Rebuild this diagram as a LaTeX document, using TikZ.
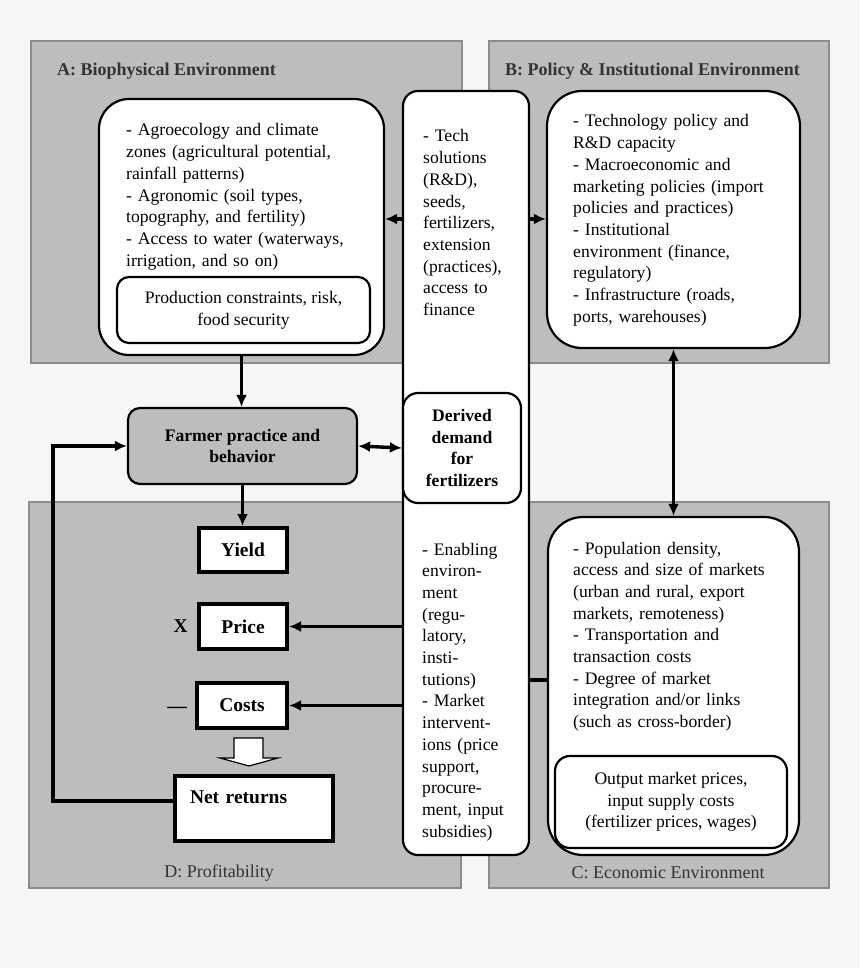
\documentclass[tikz,border=0pt]{standalone}
\usepackage{fontspec}
\setmainfont{Liberation Serif}
\usetikzlibrary{arrows.meta,positioning}
\definecolor{pagebg}{RGB}{246,246,246}
\definecolor{panelgray}{RGB}{189,189,189}
\definecolor{panelline}{RGB}{140,140,140}
\definecolor{labelgray}{RGB}{51,51,51}
\newcommand{\bodyfont}{\fontsize{17.6}{21.7}\selectfont}
\tikzset{
    panel/.style={
        draw=panelline,line width=1.6pt,fill=panelgray,inner sep=0pt
    },
    paneltitle/.style={
        inner sep=0pt,text=labelgray,font=\fontsize{18}{21}\selectfont
    },
    roundbox/.style={
        draw,line width=2.2pt,fill=white,rounded corners=#1,
        inner sep=0pt,align=center,font=\bodyfont
    },
    roundbox/.default=14pt,
    listtext/.style={
        anchor=base west,inner sep=0pt,text width=#1,align=left,font=\bodyfont
    },
    valbox/.style={
        draw,line width=4pt,fill=white,inner sep=0pt,
        font=\fontsize{19.5}{22}\selectfont\bfseries
    },
    arrow/.style={
        -{Latex[length=12pt,width=11pt]},line width=3.4pt
    },
    twoway/.style={
        {Latex[length=12pt,width=11pt]}-{Latex[length=12pt,width=11pt]},line width=3.4pt
    },
    link/.style={line width=3.4pt}
}
\begin{document}
\begin{tikzpicture}[x=1pt,y=-1pt]

\fill[pagebg] (0,0) rectangle (860,968);
\useasboundingbox (0,0) rectangle (860,968);

\node[panel,minimum width=431pt,minimum height=322pt] (pA) at (246.5,202) {};
\node[panel,minimum width=340pt,minimum height=322pt] (pB) at (659,202) {};
\node[panel,minimum width=432pt,minimum height=386pt] (pD) at (245,695) {};
\node[panel,minimum width=340pt,minimum height=386pt] (pC) at (659,695) {};

\node[paneltitle,anchor=base west,font=\fontsize{18}{21}\selectfont\bfseries]
(tA) at (57,76) {A: Biophysical Environment};
\node[paneltitle,anchor=base west,font=\fontsize{18}{21}\selectfont\bfseries]
(tB) at (505,76) {B: Policy \& Institutional Environment};
\node[paneltitle,anchor=base] (tD) at (219,877) {D: Profitability};
\node[paneltitle,anchor=base] (tC) at (668,878) {C: Economic Environment};

\node[roundbox=15pt,minimum width=126pt,minimum height=764pt] (col) at (466,473) {};

\node[roundbox=30pt,minimum width=285pt,minimum height=256pt] (aenv) at (241.5,227) {};
\node[roundbox=35pt,minimum width=253pt,minimum height=257pt] (benv) at (673.5,219.5) {};
\node[roundbox=35pt,minimum width=251pt,minimum height=338pt] (cenv) at (673.5,686) {};

\node[listtext=250pt] (atext) at (126,136)
{- Agroecology and climate\\
zones (agricultural potential,\\
rainfall patterns)\\
- Agronomic (soil types,\\
topography, and fertility)\\
- Access to water (waterways,\\
irrigation, and so on)};

\node[roundbox=12pt,minimum width=253pt,minimum height=66pt] (ainner) at (243.5,310)
{Production constraints, risk,\\ food security};

\node[listtext=100pt] (techtext) at (423,142)
{- Tech\\
solutions\\
(R\&D),\\
seeds,\\
fertilizers,\\
extension\\
(practices),\\
access to\\
finance};

\node[listtext=225pt] (btext) at (573,127)
{- Technology policy and\\
R\&D capacity\\
- Macroeconomic and\\
marketing policies (import\\
policies and practices)\\
- Institutional\\
environment (finance,\\
regulatory)\\
- Infrastructure (roads,\\
ports, warehouses)};

\node[roundbox=15pt,minimum width=118pt,minimum height=110pt,
font=\bodyfont\bfseries] (derived) at (462,448)
{Derived\\ demand\\ for\\ fertilizers};

\node[roundbox=12pt,minimum width=229pt,minimum height=76pt,fill=panelgray,
font=\bodyfont\bfseries] (farmer) at (242.5,446)
{Farmer practice and\\ behavior};

\node[listtext=100pt] (enabletext) at (422,555)
{- Enabling\\
environ-\\
ment\\
(regu-\\
latory,\\
insti-\\
tutions)\\
- Market\\
intervent-\\
ions (price\\
support,\\
procure-\\
ment, input\\
subsidies)};

\node[listtext=225pt] (ctext) at (573,554)
{- Population density,\\
access and size of markets\\
(urban and rural, export\\
markets, remoteness)\\
- Transportation and\\
transaction costs\\
- Degree of market\\
integration and/or links\\
(such as cross-border)};

\node[roundbox=15pt,minimum width=232pt,minimum height=92pt] (cinner) at (671,802)
{Output market prices,\\ input supply costs\\ (fertilizer prices, wages)};

\node[valbox,minimum width=88pt,minimum height=44pt] (yield) at (243,550) {Yield};
\node[valbox,minimum width=88pt,minimum height=45pt] (price) at (243,626.5) {Price};
\node[valbox,minimum width=90pt,minimum height=45pt] (costs) at (242,705.5) {Costs};
\node[valbox,minimum width=158pt,minimum height=65pt,text width=128pt,
inner xsep=15pt,align=left] (netret) at (254,808.5) {Net returns\\ ~};

\node[inner sep=0pt,font=\fontsize{19.5}{22}\selectfont\bfseries,left=9pt of price]
(times) {X};
\node[inner sep=0pt,font=\fontsize{19.5}{22}\selectfont\bfseries,left=8pt of costs,
yshift=-4pt] (minus) {---};

\draw[line width=1.2pt,fill=white] (234,738) -- (263,738) -- (263,758) -- (278,758)
-- (249,766) -- (220,758) -- (234,758) -- cycle;

\coordinate (tl) at (0,219);
\coordinate (cl) at (0,680);
\coordinate (fb) at (53,801);

\draw[arrow] (aenv.south) -- (aenv.south |- farmer.north);
\draw[arrow] (farmer.south) -- (farmer.south |- yield.north);
\draw[twoway] (farmer.east) -- (derived.west);
\draw[arrow] (col.west |- tl) -- (aenv.east |- tl);
\draw[arrow] (col.east |- tl) -- (benv.west |- tl);
\draw[twoway] (benv.south) -- (cenv.north);
\draw[arrow] (col.west |- price.east) -- (price.east);
\draw[arrow] (col.west |- costs.east) -- (costs.east);
\draw[link] (cenv.west |- cl) -- (col.east |- cl);
\draw[arrow] (netret.west |- fb) -- (fb) |- (farmer.west);

\end{tikzpicture}
\end{document}
